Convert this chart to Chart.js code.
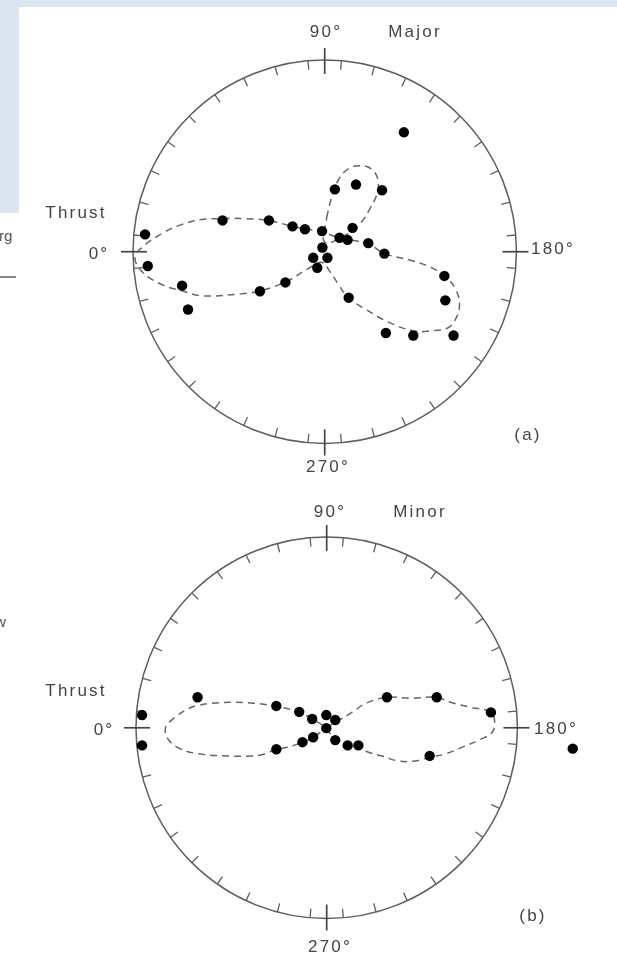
<!DOCTYPE html>
<html>
<head>
<meta charset="utf-8">
<script src="https://cdn.jsdelivr.net/npm/chart.js@4.4.1/dist/chart.umd.min.js"></script>
<style>
  html, body { margin:0; padding:0; background:#fff; }
  body { width:617px; height:957px; position:relative; overflow:hidden; }
  .band { position:absolute; background:#dce6f2; }
  canvas { position:absolute; left:0; }
  .lbl { position:absolute; transform:translate(-50%,-50%); font-family:"Liberation Sans", Arial, sans-serif;
         font-size:17px; letter-spacing:2.2px; color:#444; white-space:nowrap; line-height:1; }
  .frag { position:absolute; font-family:"Liberation Sans", Arial, sans-serif; font-size:15px; color:#555; line-height:1; }
</style>
</head>
<body>
<div class="band" style="left:0;top:0;width:617px;height:7px"></div>
<div class="band" style="left:0;top:0;width:19px;height:213px"></div>
<div class="frag" style="left:-1px;top:228px">rg</div>
<div style="position:absolute;left:0;top:276px;width:16px;height:2px;background:#888"></div>
<div class="frag" style="left:-5px;top:614px">w</div>

<canvas id="chartA" width="617" height="478" style="top:0"></canvas>
<canvas id="chartB" width="617" height="479" style="top:478px"></canvas>

<div id="labels"></div>

<script>
// ---------- DATA (stereonet coordinates, primitive circle radius = 100) ----------
const cardinalLabels = ['0°', '90°', '180°', '270°'];
const panelTitles = ['Major', 'Minor'];
const panelTags = ['(a)', '(b)'];
const sideLabel = 'Thrust';

// (a) Major: plotted poles
const majorPoints = [
  [-93.7, 9.1], [-92.3, -7.5], [-74.4, -17.8], [-71.3, -30.3], [-53.3, 16.4],
  [-29.1, 16.4], [-16.8, 13.3], [-10.3, 11.8], [-1.4, 10.8], [5.3, 32.7],
  [16.3, 35.2], [29.9, 32.2], [14.5, 12.5], [7.7, 7.3], [11.9, 6.2],
  [-1.2, 2.2], [-6.0, -3.2], [1.4, -3.2], [-3.9, -8.4], [22.7, 4.5],
  [31.1, -1.0], [-20.5, -16.1], [-33.8, -20.7], [62.4, -12.7], [62.9, -25.5],
  [12.5, -24.1], [31.9, -42.6], [46.2, -43.9], [67.2, -43.9], [41.3, 62.6]
];
// (a) dashed contour: pinched double loop
const majorContour1 = [
  [-53.3, 17.4], [-42.1, 17.4], [-29.2, 16.4], [-16.9, 13.3], [-1.5, 10.3],
  [7.7, 7.2], [22.6, 4.1], [31.3, -1.0], [45.1, -4.6], [55.4, -8.2],
  [62.6, -12.8], [68.2, -19.5], [70.3, -28.2], [68.2, -35.4], [64.1, -40.0],
  [55.4, -41.5], [46.2, -41.5], [33.3, -36.9], [21.5, -30.3], [12.3, -24.1],
  [6.7, -16.4], [2.6, -10.3], [-1.5, -5.6], [-9.2, -9.2], [-20.5, -15.9],
  [-33.8, -20.5], [-43.6, -22.1], [-64.1, -23.1], [-74.4, -20.5], [-84.6, -17.4],
  [-94.9, -10.8], [-99.0, -3.1], [-94.9, 2.6], [-84.6, 9.7], [-75.9, 13.8],
  [-64.1, 16.9], [-53.3, 17.4]
];
// (a) dashed contour: upper teardrop loop
const majorContour2 = [
  [1.0, 17.9], [3.1, 26.7], [6.7, 36.9], [11.8, 43.1], [17.9, 45.1],
  [24.1, 43.6], [27.7, 37.9], [27.2, 30.3], [23.6, 22.6], [19.0, 15.4],
  [11.8, 9.2], [0.0, 5.1], [1.0, 17.9]
];

// (b) Minor: plotted poles
const minorPoints = [
  [-96.8, 6.7], [-96.8, -9.3], [-67.7, 16.1], [-26.4, 11.5], [-14.4, 8.4],
  [-7.6, 4.6], [-0.2, 6.7], [4.5, 4.1], [-0.2, -0.2], [-7.1, -5.0],
  [-12.7, -7.6], [-26.4, -11.3], [4.5, -6.5], [11.0, -9.3], [16.6, -9.3],
  [31.6, 16.1], [57.7, 16.1], [86.1, 8.1], [54.0, -14.8], [129.0, -11.0]
];
// (b) dashed contour: figure of eight
const minorContour = [
  [-0.5, 0], [6.7, 4.1], [13.4, 8.2], [20.6, 12.9], [31.4, 16.0], [44.3, 15.5],
  [57.7, 16.0], [64.9, 13.4], [75.3, 10.8], [86.1, 8.2], [88.1, 2.6], [86.6, -2.6],
  [80.4, -6.2], [72.2, -9.8], [61.9, -13.9], [54.1, -15.5], [46.4, -17.5], [37.6, -17.5],
  [28.9, -14.9], [20.6, -12.4], [16.5, -9.8], [10.8, -9.3], [4.6, -6.7], [-0.5, 0],
  [-7.7, 4.6], [-14.4, 8.2], [-26.3, 11.3], [-38.1, 12.9], [-48.5, 13.4], [-60.3, 12.9],
  [-67.0, 11.9], [-72.2, 10.3], [-79.9, 5.2], [-84.5, 0], [-83.0, -6.2], [-76.3, -11.3],
  [-65.5, -13.9], [-51.5, -14.9], [-39.7, -14.9], [-33.0, -13.9], [-26.3, -11.3],
  [-20.6, -10.3], [-12.9, -7.7], [-7.2, -5.2], [-0.5, 0]
];

// ---------- RENDERING ----------
const toXY = arr => arr.map(p => ({x: p[0], y: p[1]}));

const stereoFrame = {
  id: 'stereoFrame',
  beforeDatasetsDraw(chart) {
    const {ctx, scales: {x, y}} = chart;
    const cx = x.getPixelForValue(0), cy = y.getPixelForValue(0);
    const r = x.getPixelForValue(100) - cx;
    ctx.save();
    ctx.strokeStyle = '#5e5e5e';
    ctx.lineWidth = 1.5;
    ctx.beginPath();
    ctx.arc(cx, cy, r, 0, Math.PI * 2);
    ctx.stroke();
    ctx.lineWidth = 1.3;
    const seg = (deg, r1, r2) => {
      const a = deg * Math.PI / 180;
      const c = -Math.cos(a), s = -Math.sin(a);
      ctx.beginPath();
      ctx.moveTo(cx + c * r1, cy + s * r1);
      ctx.lineTo(cx + c * r2, cy + s * r2);
      ctx.stroke();
    };
    for (let d = 5; d < 360; d += 10) seg(d, r, r - 9);
    ctx.lineWidth = 1.7;
    ctx.strokeStyle = '#444';
    [0, 90, 180, 270].forEach(d => seg(d, r - 14, r + 12));
    ctx.restore();
  }
};

function makeChart(id, points, contours, xr, yr) {
  const datasets = contours.map(c => ({
    type: 'line', data: toXY(c), showLine: true, fill: false, order: 2,
    borderColor: '#666', borderWidth: 1.5, borderDash: [7, 5],
    pointRadius: 0, tension: 0.4, cubicInterpolationMode: 'default'
  }));
  datasets.push({
    type: 'scatter', data: toXY(points), order: 1, pointRadius: 5.2, pointHoverRadius: 5.2,
    backgroundColor: '#000', borderWidth: 0
  });
  return new Chart(document.getElementById(id), {
    type: 'scatter',
    data: { datasets },
    options: {
      responsive: false, animation: false,
      layout: { padding: 0 },
      plugins: { legend: { display: false }, tooltip: { enabled: false } },
      scales: {
        x: { type: 'linear', min: xr[0], max: xr[1], display: false },
        y: { type: 'linear', min: yr[0], max: yr[1], display: false }
      }
    },
    plugins: [stereoFrame]
  });
}

// panel (a): centre at (325,252) px, radius 195 px
makeChart('chartA', majorPoints, [majorContour1, majorContour2],
  [-325 / 1.95, (617 - 325) / 1.95], [-(478 - 252) / 1.95, 252 / 1.95]);
// panel (b): centre at (327,250) px in its canvas, radius 194 px
makeChart('chartB', minorPoints, [minorContour],
  [-327 / 1.94, (617 - 327) / 1.94], [-(479 - 250) / 1.94, 250 / 1.94]);

// ---------- LABELS ----------
const labelSpecs = [
  [cardinalLabels[1], 326, 31], [panelTitles[0], 415, 31], [sideLabel, 76, 212],
  [cardinalLabels[0], 99, 253], [cardinalLabels[2], 553, 248], [panelTags[0], 528, 434],
  [cardinalLabels[3], 328, 466],
  [cardinalLabels[1], 330, 511], [panelTitles[1], 420, 511], [sideLabel, 76, 690],
  [cardinalLabels[0], 104, 729], [cardinalLabels[2], 556, 728], [panelTags[1], 533, 915],
  [cardinalLabels[3], 330, 946]
];
const host = document.getElementById('labels');
labelSpecs.forEach(([t, x, y]) => {
  const d = document.createElement('div');
  d.className = 'lbl';
  d.textContent = t;
  d.style.left = x + 'px';
  d.style.top = y + 'px';
  host.appendChild(d);
});
</script>
</body>
</html>
